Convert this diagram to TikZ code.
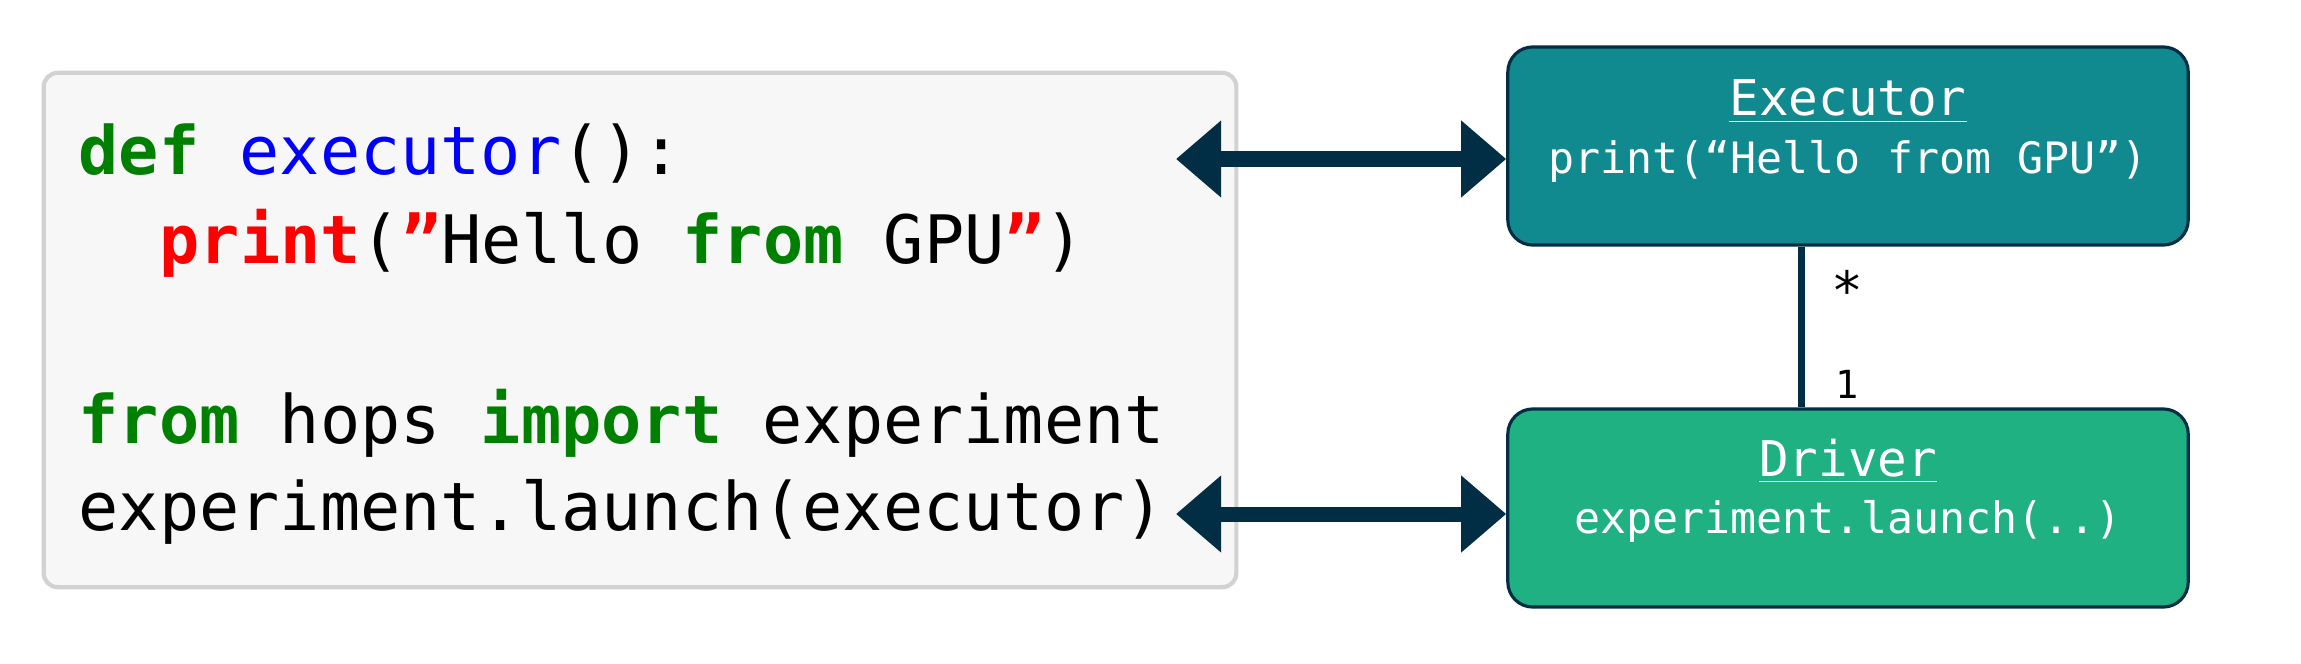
\documentclass[tikz,border=0pt]{standalone}
\usepackage{fontspec}
\setmonofont{DejaVu Sans Mono}
\usetikzlibrary{arrows.meta, positioning, calc}

\definecolor{navy}{RGB}{2,46,69}
\definecolor{execfill}{RGB}{16,137,143}
\definecolor{driverfill}{RGB}{31,177,130}
\definecolor{codegray}{RGB}{247,247,247}
\definecolor{codeborder}{RGB}{210,210,210}
\definecolor{kwgreen}{RGB}{0,128,0}
\definecolor{fnblue}{RGB}{0,0,255}
\definecolor{kwred}{RGB}{255,0,0}

\tikzset{
  codeline/.style={anchor=base west, inner sep=0, font=\ttfamily\fontsize{19}{23}\selectfont},
  umlbox/.style={draw=navy, line width=0.9pt, rounded corners=0.25cm, minimum width=6.8cm, minimum height=1.98cm},
  boxtitle/.style={text=white, anchor=base, inner sep=0, font=\ttfamily\fontsize{14}{17}\selectfont},
  boxtext/.style={text=white, anchor=base, inner sep=0, font=\ttfamily\fontsize{12.3}{15}\selectfont},
  mult/.style={anchor=base, inner sep=0, font=\ttfamily\fontsize{11}{13}\selectfont},
  link/.style={navy, line width=0.15cm, {Triangle[length=0.45cm,width=0.74cm]}-{Triangle[length=0.45cm,width=0.74cm]}},
}

\begin{document}
\begin{tikzpicture}[x=0.01cm, y=-0.01cm]

\useasboundingbox (0,0) rectangle (2301,664);

\node [draw=codeborder, line width=1.2pt, fill=codegray, rounded corners=4pt, minimum width=11.92cm, minimum height=5.14cm] (code) at (640,330) {};

\node [codeline] (line1) at (78,175) {\textcolor{kwgreen}{\bfseries def} \textcolor{fnblue}{executor}():};
\node [codeline] (line2) at (159,263) {\textcolor{kwred}{\bfseries print}(\textcolor{kwred}{\bfseries ”}Hello \textcolor{kwgreen}{\bfseries from} GPU\textcolor{kwred}{\bfseries ”})};
\node [codeline] (line4) at (78,443) {\textcolor{kwgreen}{\bfseries from} hops \textcolor{kwgreen}{\bfseries import} experiment};
\node [codeline] (line5) at (78,530) {experiment.launch(executor)};

\node [umlbox, fill=execfill] (exec) at (1848,146) {};
\node [boxtitle] (exectitle) at (1848,116) {\underline{Executor}};
\node [boxtext] (execcall) at (1848,173) {print(“Hello from GPU”)};

\node [umlbox, fill=driverfill] (driver) at (1848,508) {};
\node [boxtitle] (drivertitle) at (1848,476) {\underline{Driver}};
\node [boxtext] (drivercall) at (1848,533) {experiment.launch(..)};

\coordinate (axis) at (1801,0);
\draw [navy, line width=0.07cm] (exec.south -| axis) -- (driver.north -| axis);
\node [mult, font=\ttfamily\fontsize{15}{17}\selectfont] (many) at (1847,309) {*};
\node [mult] (one) at (1847,398) {1};

\coordinate (codetop) at (1176,159);
\coordinate (codebottom) at (1176,514);
\draw [link] (codetop) -- (exec.west |- codetop);
\draw [link] (codebottom) -- (driver.west |- codebottom);

\end{tikzpicture}
\end{document}
